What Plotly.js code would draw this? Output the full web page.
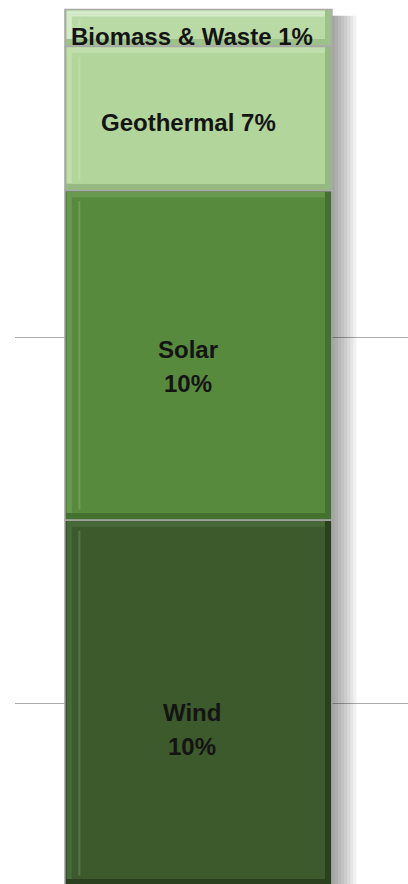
<!DOCTYPE html>
<html>
<head>
<meta charset="utf-8">
<script src="https://cdn.plot.ly/plotly-3.0.1.min.js"></script>
<style>
  html, body { margin: 0; padding: 0; background: #ffffff; }
  #chart { width: 408px; height: 884px; }
</style>
</head>
<body>
<div id="chart"></div>
<script>
// ---- data (bottom of stack to top) ----
var categories = ['Wind', 'Solar', 'Geothermal', 'Biomass & Waste'];
var heights    = [10.0, 9.0, 3.95, 1.0];          // segment sizes
var labelTexts = ['Wind<br>10%', 'Solar<br>10%', 'Geothermal 7%', 'Biomass & Waste 1%'];
var gridTicks  = [5, 15];

// ---- styles ----
var faceColors  = ['#3c5a2b', '#578a3d', '#b1d59b', '#b9daa5'];
var lightColors = ['#476838', '#68994e', '#c0deac', '#d4eac6'];
var darkColors  = ['#2b401f', '#44712f', '#95b980', '#9ec08b'];
var labelShift  = [{x: -6, y: -26}, {x: -10, y: -11}, {x: -10, y: -4}, {x: -6, y: -9}];
var lineGap = 34;   // px between label lines

var bevX = 0.026;   // bevel thickness in x units
var bevY = 0.19;    // bevel thickness in y units

var bases = [];
var acc = 0;
for (var i = 0; i < heights.length; i++) { bases.push(acc); acc += heights[i]; }
var total = acc;

var traces = [];

// soft drop shadow to the right of the bar
for (var k = 1; k <= 8; k++) {
  traces.push({
    type: 'bar', x: [0], y: [total - 0.17 + 1], base: [-1],
    offset: -0.5 + k * 0.0115, width: 1,
    marker: { color: 'rgba(0,0,0,0.05)', line: { width: 0 } },
    hoverinfo: 'skip', showlegend: false
  });
}

for (var i = 0; i < heights.length; i++) {
  var b = bases[i], v = heights[i];
  // outer (dark bevel)
  traces.push({
    type: 'bar', x: [0], y: [v], base: [b], offset: -0.5, width: 1,
    name: categories[i],
    marker: { color: darkColors[i], line: { color: '#a9a9a9', width: 1.5 } },
    hoverinfo: 'name', showlegend: false
  });
  // highlight (top / left bevel)
  traces.push({
    type: 'bar', x: [0], y: [v - bevY - 0.03], base: [b + bevY],
    offset: -0.5 + 0.006, width: 1 - bevX - 0.006,
    marker: { color: lightColors[i], line: { width: 0 } },
    hoverinfo: 'skip', showlegend: false
  });
  // face
  traces.push({
    type: 'bar', x: [0], y: [v - 2 * bevY], base: [b + bevY],
    offset: -0.5 + bevX, width: 1 - 2 * bevX,
    marker: { color: faceColors[i], line: { width: 0 } },
    hoverinfo: 'skip', showlegend: false
  });
  // thin pale stripe near the left edge
  traces.push({
    type: 'bar', x: [0], y: [v - 2 * bevY - 0.2], base: [b + bevY + 0.1],
    offset: -0.5 + 0.05, width: 0.008,
    marker: { color: 'rgba(255,255,255,0.15)', line: { width: 0 } },
    hoverinfo: 'skip', showlegend: false
  });
}

var annotations = [];
for (var i = 0; i < heights.length; i++) {
  var lines = labelTexts[i].split('<br>');
  for (var j = 0; j < lines.length; j++) {
    var off = (j - (lines.length - 1) / 2) * lineGap;
    annotations.push({
      x: 0, y: bases[i] + heights[i] / 2, xref: 'x', yref: 'y',
      text: lines[j], showarrow: false,
      xshift: labelShift[i].x, yshift: labelShift[i].y - off,
      font: { family: 'Liberation Sans, Arial, sans-serif', size: 24, color: '#141414', weight: 'bold' },
      align: 'center'
    });
  }
}

var layout = {
  width: 408, height: 884,
  margin: { l: 15, r: 0, t: 0, b: 0, pad: 0 },
  paper_bgcolor: '#ffffff', plot_bgcolor: '#ffffff',
  barmode: 'overlay',
  showlegend: false,
  xaxis: { range: [-0.687, 0.785], visible: false, fixedrange: true },
  yaxis: {
    range: [0.055, 24.208], tickmode: 'array', tickvals: gridTicks,
    showticklabels: false, ticks: '', showgrid: true, gridcolor: '#acacac', gridwidth: 1,
    zeroline: false, showline: false, fixedrange: true
  },
  annotations: annotations
};

Plotly.newPlot('chart', traces, layout, { displayModeBar: false, staticPlot: true });
</script>
</body>
</html>
